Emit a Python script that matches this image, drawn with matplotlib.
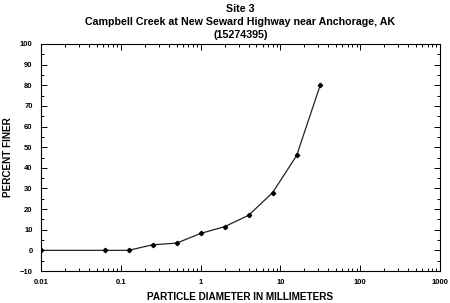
import matplotlib.pyplot as plt
from matplotlib.ticker import LogLocator, MultipleLocator, FixedLocator, FixedFormatter

diam_mm = [0.01, 0.0625, 0.125, 0.25, 0.5, 1, 2, 4, 8, 16, 31.5]
pct_finer = [0, 0, 0, 2.7, 3.5, 8.2, 11.5, 17, 28, 46, 80]
xtick_vals = [0.01, 0.1, 1, 10, 100, 1000]
xtick_labels = ["0.01", "0.1", "1", "10", "100", "1000"]

plt.rcParams['font.family'] = ['Liberation Sans', 'DejaVu Sans']

fig = plt.figure(figsize=(4.5, 3.03), dpi=100)
ax = fig.add_axes([41 / 450, 32 / 303, 399 / 450, 227 / 303])

ax.plot(diam_mm, pct_finer, color='#222222', lw=0.9, marker='D', ms=2.2,
        mfc='black', mec='black')

ax.set_xscale('log')
ax.set_xlim(0.01, 1000)
ax.set_ylim(-10, 100)
ax.xaxis.set_major_locator(FixedLocator(xtick_vals))
ax.xaxis.set_major_formatter(FixedFormatter(xtick_labels))
ax.xaxis.set_minor_locator(LogLocator(base=10, subs=range(2, 10)))
ax.yaxis.set_major_locator(MultipleLocator(10))
ax.yaxis.set_minor_locator(MultipleLocator(5))

ax.tick_params(which='both', direction='in', top=True, right=True,
               labelsize=5.5, width=0.7)
ax.tick_params(which='major', length=4, pad=6)
ax.tick_params(which='minor', length=2.5)
for lab in ax.get_xticklabels() + ax.get_yticklabels():
    lab.set_fontweight('bold')
for s in ax.spines.values():
    s.set_linewidth(0.8)

ax.set_xlabel("PARTICLE DIAMETER IN MILLIMETERS", fontsize=7.2,
              fontweight='bold', labelpad=4)
ax.set_ylabel("PERCENT FINER", fontsize=7.2, fontweight='bold', labelpad=5)
ax.set_title("Site 3\nCampbell Creek at New Seward Highway near Anchorage, AK\n(15274395)",
             fontsize=7.7, fontweight='bold', linespacing=1.4, pad=4)

fig.savefig("out.png", dpi=100)
